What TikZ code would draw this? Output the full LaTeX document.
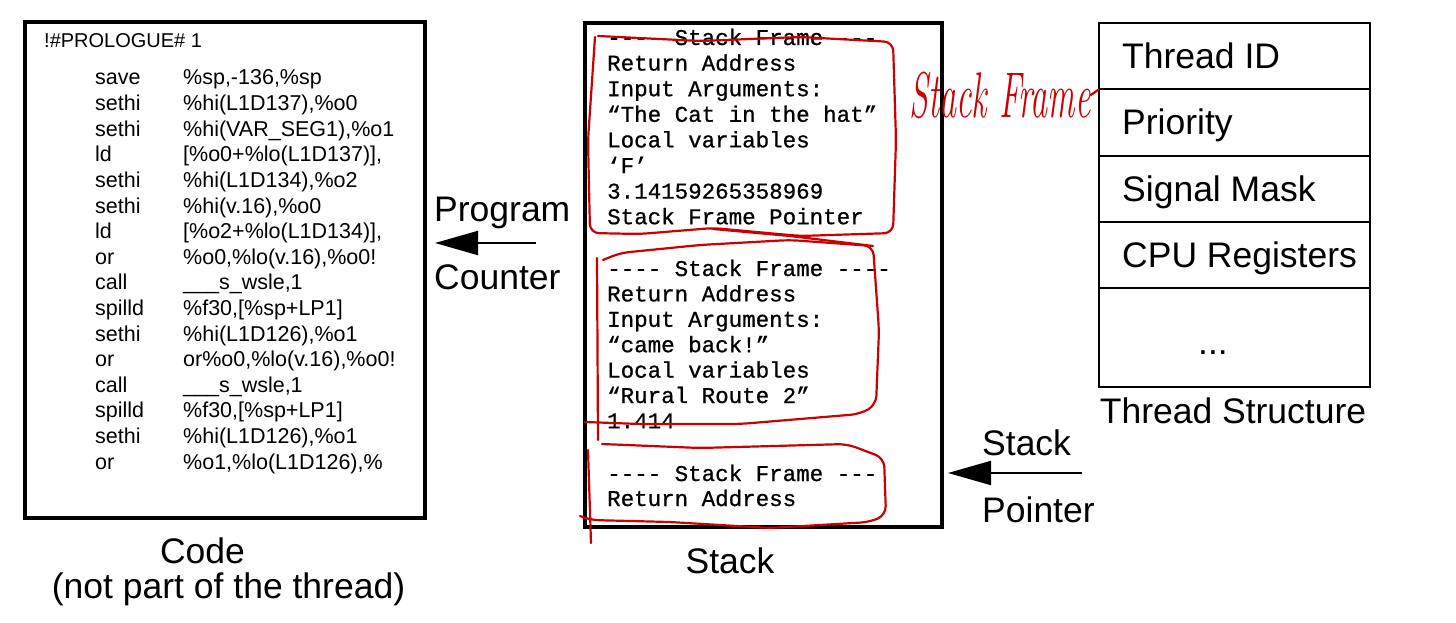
\documentclass[tikz,border=0pt]{standalone}
\usepackage{fontspec}
\usepackage{tikz}
\usetikzlibrary{arrows.meta}
\newfontfamily\arialfont{Liberation Sans}
\newfontfamily\courierfont[FakeBold=0.8]{Liberation Mono}
\definecolor{penred}{RGB}{204,0,0}

\begin{document}
\begin{tikzpicture}[x=1pt, y=-1pt,
    box/.style={rectangle, draw, line width=3.5pt, inner sep=0pt},
    cell/.style={rectangle, draw, line width=1.8pt, inner sep=0pt, minimum width=271pt},
    codetext/.style={anchor=base west, inner sep=0pt, font=\arialfont\fontsize{21.5}{24}\selectfont},
    stacktext/.style={anchor=base west, inner sep=0pt, font=\courierfont\fontsize{22.5}{25}\selectfont},
    bigtext/.style={inner sep=0pt, font=\arialfont\fontsize{35.5}{40}\selectfont},
    redpen/.style={draw=penred, line width=2.2pt, line cap=round, line join=round, rounded corners=9pt},
    pointer/.style={line width=2pt, -{Triangle[length=43pt, width=24pt]}}]
    \useasboundingbox (0,0) rectangle (1456,623);

    % Code
    \node[box, minimum width=400pt, minimum height=496pt] (code) at (225,270) {};
    \node[codetext, font=\arialfont\fontsize{20}{24}\selectfont] (prologue) at (44,48) {!\#PROLOGUE\# 1};
    \foreach \op/\arg [count=\i from 0] in {save/{\%sp,-136,\%sp}, sethi/{\%hi(L1D137),\%o0},
        sethi/{\%hi(VAR\_SEG1),\%o1}, ld/{[\%o0+\%lo(L1D137)],}, sethi/{\%hi(L1D134),\%o2},
        sethi/{\%hi(v.16),\%o0}, ld/{[\%o2+\%lo(L1D134)],}, or/{\%o0,\%lo(v.16),\%o0!},
        call/{\_\_\_s\_wsle,1}, spilld/{\%f30,[\%sp+LP1]}, sethi/{\%hi(L1D126),\%o1},
        or/{or\%o0,\%lo(v.16),\%o0!}, call/{\_\_\_s\_wsle,1}, spilld/{\%f30,[\%sp+LP1]},
        sethi/{\%hi(L1D126),\%o1}, or/{\%o1,\%lo(L1D126),\%}} {
        \node[codetext] (op\i) at (95,85+25.6*\i) {\op};
        \node[codetext] (arg\i) at (183,85+25.6*\i) {\arg};
    }
    \node[bigtext, anchor=base] (codelabel) at (202.5,563) {Code};
    \node[bigtext, anchor=base] (codenote) at (228.5,598) {(not part of the thread)};

    % Program counter
    \node[bigtext, anchor=base west] (pclabel) at (434,221) {Program};
    \node[bigtext, anchor=base west] (pclabel2) at (434,289) {Counter};
    \coordinate (pcTail) at (536,243);
    \coordinate (pcTip) at (435,243);
    \draw[pointer] (pcTail) -- (pcTip);

    % Stack
    \node[box, minimum width=357pt, minimum height=504pt] (stack) at (763.5,275) {};
    \foreach \txt [count=\i from 0] in {---- Stack Frame ---, Return Address, Input Arguments:,
        “The Cat in the hat”, Local variables, ‘F’, 3.14159265358969, Stack Frame Pointer} {
        \node[stacktext] (frameA\i) at (607,45+25.6*\i) {\txt};
    }
    \foreach \txt [count=\i from 0] in {---- Stack Frame ----, Return Address, Input Arguments:,
        “came back!”, Local variables, “Rural Route 2”, 1.414} {
        \node[stacktext] (frameB\i) at (607,276+25.4*\i) {\txt};
    }
    \node[stacktext] (frameC0) at (607,481) {---- Stack Frame ---};
    \node[stacktext] (frameC1) at (607,506) {Return Address};
    \node[bigtext, anchor=base] (stacklabel) at (730,573) {Stack};

    % Stack pointer
    \node[bigtext, anchor=base west] (splabel) at (982,455) {Stack};
    \node[bigtext, anchor=base west] (splabel2) at (982,522) {Pointer};
    \coordinate (spTail) at (1082,473);
    \coordinate (spTip) at (948,473);
    \draw[pointer] (spTail) -- (spTip);

    % Thread structure
    \node[cell, minimum height=66pt] (tid) at (1234.5,56) {};
    \node[cell, minimum height=67pt] (prio) at (1234.5,122.5) {};
    \node[cell, minimum height=66pt] (mask) at (1234.5,189) {};
    \node[cell, minimum height=66pt] (regs) at (1234.5,255) {};
    \node[cell, minimum height=99pt] (more) at (1234.5,337.5) {};
    \node[bigtext, anchor=base west] (tidtext) at (1122,69) {Thread ID};
    \node[bigtext, anchor=base west] (priotext) at (1122,135) {Priority};
    \node[bigtext, anchor=base west] (masktext) at (1122,201.5) {Signal Mask};
    \node[bigtext, anchor=base west] (regstext) at (1122,267.5) {CPU Registers};
    \node[bigtext, anchor=base] (moretext) at (1213,354) {...};
    \node[bigtext, anchor=base] (threadlabel) at (1233,423) {Thread Structure};

    % red notes
    \draw[redpen] (598,36) -- (700,41) -- (800,37) -- (893,42) -- (896,140) -- (893,233)
        -- (800,236) -- (713,228) -- (640,234) -- (590,233) -- (588,140) -- (595,37);
    \draw[redpen] (713,229) -- (790,236) -- (873,246);
    \draw[redpen] (603,260) -- (620,253) -- (700,245) -- (790,240) -- (873,246) -- (879,330)
        -- (876,405) -- (860,414) -- (740,424) -- (640,424) -- (585,422);
    \draw[redpen] (597,258) -- (598,440);
    \draw[redpen] (602,444) -- (700,448) -- (847,444) -- (884,458) -- (886,515) -- (870,522)
        -- (770,528) -- (670,522) -- (590,520) -- (580,516);
    \draw[redpen] (588,450) -- (591,543);
    \node[text=penred, inner sep=0pt, xscale=0.9, yscale=1.7,
        font=\itshape\fontsize{38}{40}\selectfont] (note) at (1000,95) {Stack Frame};
    \draw[redpen] (note.east) -- (tid.south west);
\end{tikzpicture}
\end{document}
